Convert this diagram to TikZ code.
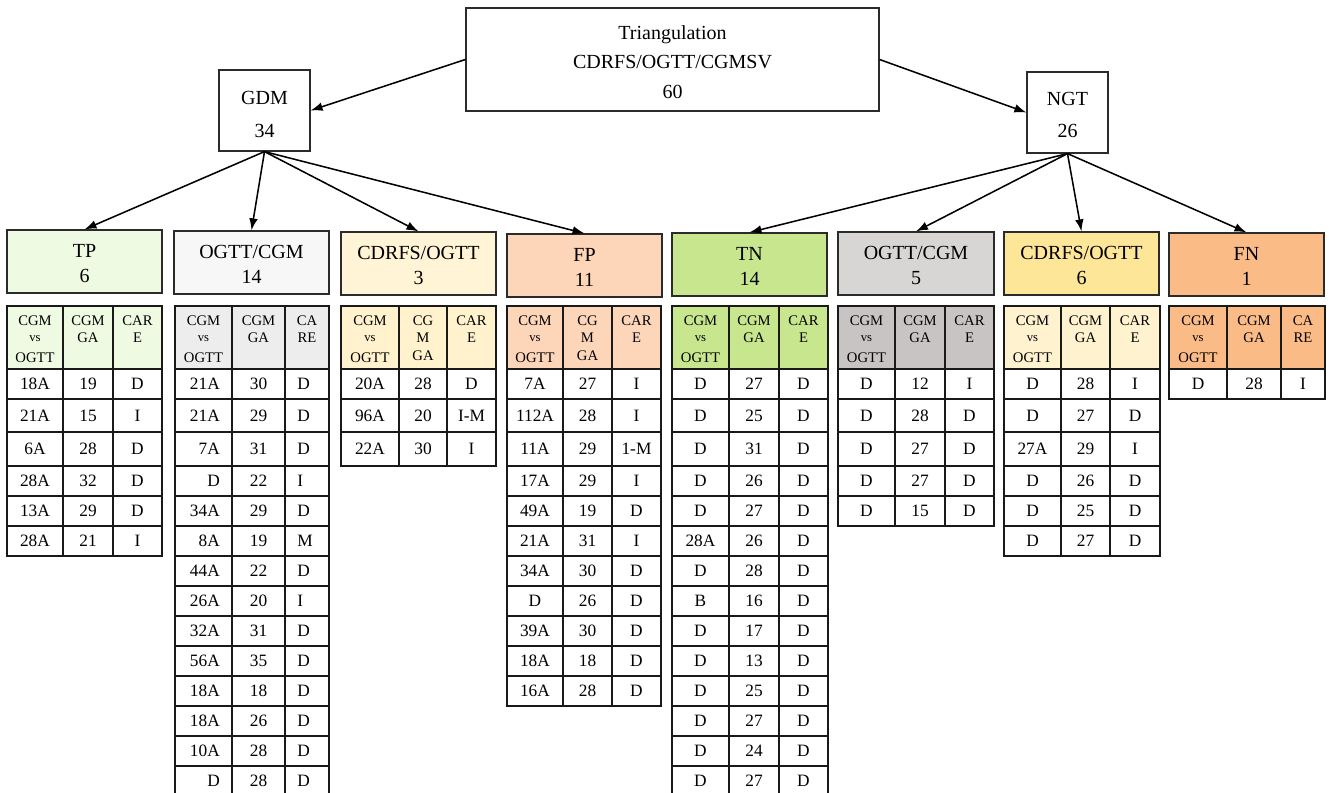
\documentclass[tikz,border=0pt]{standalone}
\usepackage{fontspec}
\setmainfont{Liberation Serif}
\usetikzlibrary{arrows.meta}
\definecolor{boxline}{HTML}{2B2B2B}
\definecolor{tpc}{HTML}{EFFAE3}
\definecolor{ogac}{HTML}{F7F7F7}
\definecolor{ogah}{HTML}{EDEDED}
\definecolor{cdac}{HTML}{FFF4D5}
\definecolor{cdah}{HTML}{FFF2CC}
\definecolor{fpc}{HTML}{FDD5B9}
\definecolor{tnc}{HTML}{C8E68E}
\definecolor{ogbc}{HTML}{D8D5D5}
\definecolor{ogbh}{HTML}{C8C4C4}
\definecolor{cdbc}{HTML}{FEE699}
\definecolor{cdbh}{HTML}{FFF3CF}
\definecolor{fnc}{HTML}{FABB87}
\newcommand\lift[1]{\rule{0pt}{#1}}
\tikzset{
  box/.style={draw=boxline, line width=0.9pt, align=center, inner sep=0pt,
    font=\rmfamily\fontsize{15}{18.75}\selectfont},
  catbox/.style={box, minimum width=116.25pt, minimum height=47.25pt},
  conn/.style={-{Latex[length=9pt,width=6.5pt]}, line width=1.15pt, black},
  cellline/.style={draw=black!90, line width=1.1pt},
  celltext/.style={font=\rmfamily\fontsize{13}{15}\selectfont, inner sep=0pt},
  headtext/.style={font=\rmfamily\fontsize{11}{13}\selectfont, inner sep=0pt, anchor=base},
  vstext/.style={font=\rmfamily\fontsize{9.5}{11}\selectfont, inner sep=0pt, anchor=base},
  dcolA/.style={}, dcolC/.style={}
}
\def\rowys{{369,399,432,466,496,526,556,586,616,646,676,706,736,766,796}}
% #1 name, #2-#5 column edges, #6 header fill, #7 col2 header, #8 col3 header, #9 rows
\newcommand\drawtable[9]{%
  \fill[#6] (#2,306) rectangle (#5,369);
  \draw[cellline] (#2,306) rectangle (#3,369) (#3,306) rectangle (#4,369) (#4,306) rectangle (#5,369);
  \node[headtext] (#1-h1-1) at ({(#2+#3)/2},325) {CGM};
  \node[vstext] (#1-h1-2) at ({(#2+#3)/2},341) {vs};
  \node[headtext] (#1-h1-3) at ({(#2+#3)/2},362) {OGTT};
  \foreach \t [count=\j] in {#7} {\node[headtext] (#1-h2-\j) at ({(#3+#4)/2},{325+17.5*(\j-1)}) {\t};}
  \foreach \t [count=\j] in {#8} {\node[headtext] (#1-h3-\j) at ({(#4+#5)/2},{325+17.5*(\j-1)}) {\t};}
  \foreach \cellA/\cellB/\cellC [count=\i] in {#9} {
    \pgfmathsetmacro\ya{\rowys[\i-1]}
    \pgfmathsetmacro\yb{\rowys[\i]}
    \pgfmathsetmacro\ym{(\ya+\yb)/2}
    \draw[cellline] (#2,\ya) rectangle (#3,\yb) (#3,\ya) rectangle (#4,\yb) (#4,\ya) rectangle (#5,\yb);
    \node[celltext,dcolA] (#1-\i-1) at ({(#2+#3)/2},\ym) {\cellA};
    \node[celltext] (#1-\i-2) at ({(#3+#4)/2},\ym) {\cellB};
    \node[celltext,dcolC] (#1-\i-3) at ({(#4+#5)/2},\ym) {\cellC};
  }
}
\begin{document}
\begin{tikzpicture}[x=0.75pt,y=-0.75pt]
\useasboundingbox (0,0) rectangle (1329,793);
\clip (0,0) rectangle (1329,793);
\fill[white] (0,0) rectangle (1329,793);

% top level
\node[box, minimum width=309.75pt, minimum height=77.25pt,
  font=\rmfamily\fontsize{15}{22.3}\selectfont] (top) at (672.5,59.5)
  {\lift{14pt}Triangulation\\CDRFS/OGTT/CGMSV\\60};
\node[box, minimum width=68.25pt, minimum height=60.75pt,
  font=\rmfamily\fontsize{15}{24.8}\selectfont] (gdm) at (264.5,110.5) {\lift{15.9pt}GDM\\34};
\node[box, minimum width=60.75pt, minimum height=60.75pt,
  font=\rmfamily\fontsize{15}{24.3}\selectfont] (ngt) at (1067.5,112.5) {\lift{13.7pt}NGT\\26};

% categories
\node[catbox, fill=tpc]  (tp)  at (84.5,261.5)  {\lift{13pt}TP\\6};
\node[catbox, fill=ogac] (oga) at (251.5,262.5) {\lift{13pt}OGTT/CGM\\14};
\node[catbox, fill=cdac] (cda) at (418.5,263.5) {\lift{13pt}CDRFS/OGTT\\3};
\node[catbox, fill=fpc]  (fp)  at (584.5,265.5) {\lift{13pt}FP\\11};
\node[catbox, fill=tnc]  (tn)  at (749.5,264.5) {\lift{13pt}TN\\14};
\node[catbox, fill=ogbc, minimum width=117pt] (ogb) at (916,263.5) {\lift{13pt}OGTT/CGM\\5};
\node[catbox, fill=cdbc] (cdb) at (1081.5,263.5) {\lift{13pt}CDRFS/OGTT\\6};
\node[catbox, fill=fnc]  (fn)  at (1246.5,264.5) {\lift{13pt}FN\\1};

% connectors
\draw[conn] (top.west) -- (gdm.east);
\draw[conn] (top.east) -- (ngt.west);
\foreach \c in {tp,oga,cda,fp} \draw[conn] (gdm.south) -- (\c.north);
\foreach \c in {tn,ogb,cdb,fn} \draw[conn] (ngt.south) -- (\c.north);

% tables
\drawtable{ttp}{7}{63}{113}{162}{tpc}{CGM,GA}{CAR,E}
  {18A/19/D, 21A/15/I, 6A/28/D, 28A/32/D, 13A/29/D, 28A/21/I}
\begin{scope}[dcolA/.style={anchor=east,xshift=12.4pt}, dcolC/.style={anchor=west,xshift=-7.5pt}]
\drawtable{toga}{175}{232}{285}{329}{ogah}{CGM,GA}{CA,RE}
  {21A/30/D, 21A/29/D, 7A/31/D, D/22/I, 34A/29/D, 8A/19/M, 44A/22/D, 26A/20/I,
   32A/31/D, 56A/35/D, 18A/18/D, 18A/26/D, 10A/28/D, D/28/D}
\end{scope}
\drawtable{tcda}{341}{399}{447}{496}{cdah}{CG,M,GA}{CAR,E}
  {20A/28/D, 96A/20/I-M, 22A/30/I}
\drawtable{tfp}{507}{563}{612}{661}{fpc}{CG,M,GA}{CAR,E}
  {7A/27/I, 112A/28/I, 11A/29/1-M, 17A/29/I, 49A/19/D, 21A/31/I, 34A/30/D,
   D/26/D, 39A/30/D, 18A/18/D, 16A/28/D}
\drawtable{ttn}{672}{729}{779}{828}{tnc}{CGM,GA}{CAR,E}
  {D/27/D, D/25/D, D/31/D, D/26/D, D/27/D, 28A/26/D, D/28/D, B/16/D, D/17/D,
   D/13/D, D/25/D, D/27/D, D/24/D, D/27/D}
\drawtable{togb}{838}{895}{945}{994}{ogbh}{CGM,GA}{CAR,E}
  {D/12/I, D/28/D, D/27/D, D/27/D, D/15/D}
\drawtable{tcdb}{1004}{1061}{1110}{1160}{cdbh}{CGM,GA}{CAR,E}
  {D/28/I, D/27/D, 27A/29/I, D/26/D, D/25/D, D/27/D}
\drawtable{tfn}{1169}{1227}{1281}{1325}{fnc}{CGM,GA}{CA,RE}
  {D/28/I}
\end{tikzpicture}
\end{document}
